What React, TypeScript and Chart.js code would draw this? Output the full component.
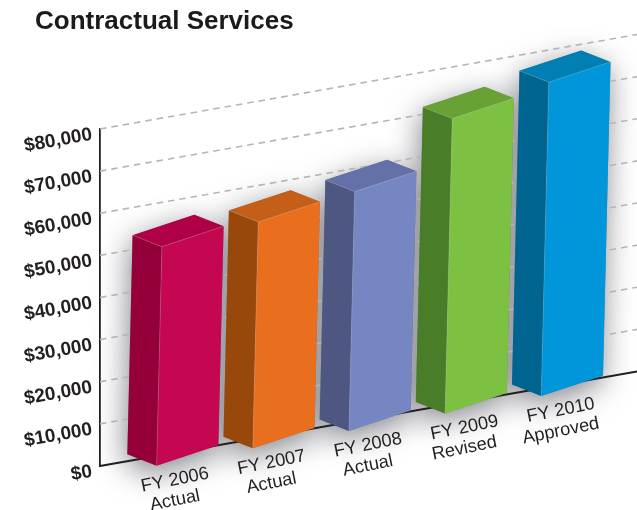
import React, { useEffect, useRef } from "react";
import { Chart, registerables } from "chart.js";

Chart.register(...registerables);

const TITLE = "Contractual Services";
const categories = [
  ["FY 2006", "Actual"],
  ["FY 2007", "Actual"],
  ["FY 2008", "Actual"],
  ["FY 2009", "Revised"],
  ["FY 2010", "Approved"],
];
const spending = [52000, 53700, 56800, 70000, 74500];
const frontColors = ["#C50650", "#E96F1F", "#7586C2", "#7CC142", "#0096D9"];
const sideColors = ["#95003A", "#98480A", "#4E5682", "#4A7D28", "#006491"];
const topColors = ["#AF0046", "#C55E16", "#6470A8", "#68A235", "#007FB5"];

const INK = "#231f20";
const FONT = "'Liberation Sans', Arial, sans-serif";

// Oblique projection of the plot: the wall and floor rise to the right,
// and the bar row is slightly foreshortened against the category axis.
const WALL_SLOPE = 0.176;
const ROW_SCALE = 0.8953;
const ROW_START_X = 187.5;
const ROW_START_Y = 465.7;
const ROW_SLOPE = 0.181;
const FRONT_RISE = 0.33;
const LEAN = 0.024;
const DEPTH_X = -29.3;
const DEPTH_Y = -11.5;

type Pt = [number, number];

function poly(ctx: CanvasRenderingContext2D, pts: Pt[]) {
  ctx.beginPath();
  pts.forEach(([x, y], i) => (i ? ctx.lineTo(x, y) : ctx.moveTo(x, y)));
  ctx.closePath();
}

const obliqueBars = {
  id: "obliqueBars",
  // widen the value axis box so its slanted labels are not clipped
  afterLayout(chart: Chart) {
    chart.scales.y.left = 0;
  },
  beforeDatasetsDraw(chart: Chart) {
    const { ctx, chartArea } = chart;
    const xs = chart.scales.x;
    const ys = chart.scales.y;
    const bars = chart.getDatasetMeta(0).data as any[];
    const span = chartArea.right - chartArea.left;
    const firstX = bars[0].x;

    const shapes = bars.map((el) => {
      const w = el.width * ROW_SCALE;
      const h = el.base - el.y;
      const cx = ROW_START_X + (el.x - firstX) * ROW_SCALE;
      const left = cx - w / 2;
      const by = ROW_START_Y - (el.x - firstX) * ROW_SCALE * ROW_SLOPE;
      const rise = w * FRONT_RISE;
      const lean = LEAN * h;
      const fb: Pt = [left, by];
      const rb: Pt = [left + w, by - rise];
      const lb: Pt = [left + DEPTH_X, by + DEPTH_Y];
      const ft: Pt = [left + lean, by - h];
      const rt: Pt = [left + w + lean, by - h - rise];
      const lt: Pt = [left + DEPTH_X + lean, by + DEPTH_Y - h];
      const bt: Pt = [left + w + DEPTH_X + lean, by + DEPTH_Y - h - rise];
      return { fb, rb, lb, ft, rt, lt, bt, cx, by, rise };
    });

    // soft cast shadows on the wall and floor
    ctx.save();
    shapes.forEach((s) => {
      ctx.save();
      ctx.shadowColor = "rgba(50,52,64,0.6)";
      ctx.shadowBlur = 30;
      ctx.shadowOffsetX = -2;
      ctx.shadowOffsetY = 8;
      ctx.fillStyle = "#888";
      poly(ctx, [s.lb, s.fb, s.rb, s.rt, s.bt, s.lt]);
      ctx.fill();
      ctx.restore();
    });

    // sheared value lines
    ys.getTicks().forEach((t) => {
      const py = ys.getPixelForValue(t.value);
      ctx.beginPath();
      ctx.moveTo(chartArea.left, py);
      ctx.lineTo(chartArea.right, py - WALL_SLOPE * span);
      if (t.value === 0) {
        ctx.setLineDash([]);
        ctx.strokeStyle = INK;
        ctx.lineWidth = 1.8;
      } else {
        ctx.setLineDash([6.5, 5]);
        ctx.strokeStyle = "#b6b4b6";
        ctx.lineWidth = 1.6;
      }
      ctx.stroke();
    });
    ctx.setLineDash([]);

    // bar faces
    shapes.forEach((s, i) => {
      ctx.fillStyle = sideColors[i];
      poly(ctx, [s.lb, s.fb, s.ft, s.lt]);
      ctx.fill();
      ctx.fillStyle = topColors[i];
      poly(ctx, [s.lt, s.ft, s.rt, s.bt]);
      ctx.fill();
      ctx.fillStyle = frontColors[i];
      poly(ctx, [s.fb, s.rb, s.rt, s.ft]);
      ctx.fill();
      ctx.beginPath();
      ctx.moveTo(s.fb[0], s.fb[1]);
      ctx.lineTo(s.ft[0], s.ft[1]);
      ctx.lineTo(s.rt[0], s.rt[1]);
      ctx.moveTo(s.ft[0], s.ft[1]);
      ctx.lineTo(s.lt[0], s.lt[1]);
      ctx.strokeStyle = "rgba(255,255,255,0.22)";
      ctx.lineWidth = 0.8;
      ctx.stroke();
    });

    // category captions follow the floor
    ctx.fillStyle = INK;
    ctx.font = `18.2px ${FONT}`;
    ctx.textAlign = "center";
    ctx.textBaseline = "middle";
    shapes.forEach((s, i) => {
      const lines = xs.getLabelForValue(i) as unknown as string[];
      const label = Array.isArray(lines) ? lines : categories[i];
      label.forEach((line, n) => {
        ctx.save();
        ctx.translate(s.cx - 12.5 + i * 0.3, s.by - s.rise / 2 + 24.5 + n * 20.6);
        ctx.rotate((-11.3 * Math.PI) / 180);
        ctx.fillText(line, 0, 0);
        ctx.restore();
      });
    });
    ctx.restore();
    return false;
  },
};

export default function App() {
  const ref = useRef<HTMLCanvasElement>(null);

  useEffect(() => {
    const chart = new Chart(ref.current!, {
      type: "bar",
      data: {
        labels: categories,
        datasets: [
          {
            label: TITLE,
            data: spending,
            backgroundColor: frontColors,
            barPercentage: 0.642,
            categoryPercentage: 1,
          },
        ],
      },
      options: {
        responsive: false,
        animation: false,
        layout: { padding: { left: 35, right: 0, top: 0, bottom: 0 } },
        plugins: {
          legend: { display: false },
          tooltip: { enabled: false },
          title: {
            display: true,
            text: TITLE,
            align: "start",
            color: "#1c1a1b",
            font: { family: FONT, size: 26, weight: "bold" },
            padding: { top: 6.5, bottom: 91.3 },
          },
        },
        scales: {
          x: {
            grid: { display: false },
            border: { display: false },
            ticks: { display: false },
            afterFit: (s: any) => {
              s.height = 44;
            },
          },
          y: {
            min: 0,
            max: 80000,
            grid: { display: false, drawTicks: false },
            border: { display: true, color: INK, width: 1.8 },
            ticks: {
              stepSize: 10000,
              color: INK,
              font: { family: FONT, size: 19, weight: "bold" },
              minRotation: 10,
              maxRotation: 10,
              padding: 8,
              labelOffset: 5.5,
              callback: (v: any) => "$" + Number(v).toLocaleString("en-US"),
            },
            afterFit: (s: any) => {
              s.width = 65;
            },
          },
        },
      },
      plugins: [obliqueBars],
    });
    return () => chart.destroy();
  }, []);

  return (
    <div style={{ position: "absolute", left: 0, top: 0, width: 637, height: 510, background: "#fff" }}>
      <canvas ref={ref} width={637} height={510} style={{ display: "block" }} />
    </div>
  );
}
